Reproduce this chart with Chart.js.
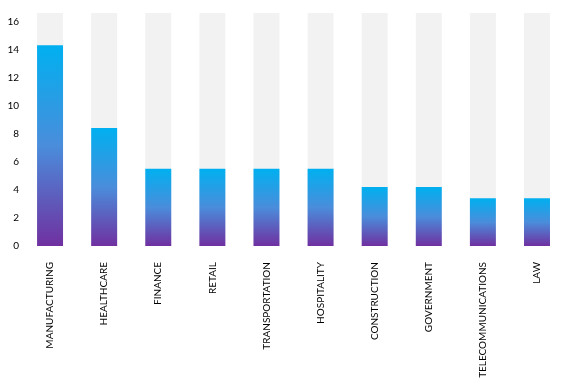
<!DOCTYPE html>
<html lang="en">
<head>
    <meta charset="UTF-8">
    <title>Industries</title>
    <style>
        html, body { margin: 0; padding: 0; background: #ffffff; }
        .chart-container { position: relative; width: 565px; height: 386px; }
    </style>
</head>
<body>
    <div class="chart-container">
        <canvas id="industryChart"></canvas>
    </div>
    <script src="https://cdn.jsdelivr.net/npm/chart.js"></script>
    <script>
        // 業種ごとの値
        const industries = ['MANUFACTURING', 'HEALTHCARE', 'FINANCE', 'RETAIL', 'TRANSPORTATION',
            'HOSPITALITY', 'CONSTRUCTION', 'GOVERNMENT', 'TELECOMMUNICATIONS', 'LAW'];
        const values = [14.3, 8.4, 5.5, 5.5, 5.5, 5.5, 4.2, 4.2, 3.4, 3.4];
        // 背景のグレーのバーの高さ
        const maxValue = 16.6;
        const backgroundValues = industries.map(() => maxValue);
        const yTicks = [0, 2, 4, 6, 8, 10, 12, 14, 16];

        // バーごとに上から水色→紫のグラデーション
        function barGradient(c) {
            const chart = c.chart;
            if (!chart.chartArea || c.raw === undefined) return '#00b0f0';
            const y = chart.scales.y;
            const top = y.getPixelForValue(c.raw);
            const bottom = y.getPixelForValue(0);
            const g = chart.ctx.createLinearGradient(0, top, 0, bottom);
            g.addColorStop(0, '#00b0f0');
            g.addColorStop(0.5, '#4a8ddb');
            g.addColorStop(1, '#7030a0');
            return g;
        }

        const config = {
            type: 'bar',
            data: {
                labels: industries,
                datasets: [{
                    label: 'value',
                    data: values,
                    backgroundColor: barGradient,
                    grouped: false,
                    order: 1,
                    barPercentage: 0.48,
                    categoryPercentage: 1
                }, {
                    label: 'background',
                    data: backgroundValues,
                    backgroundColor: '#f2f2f2',
                    grouped: false,
                    order: 2,
                    barPercentage: 0.48,
                    categoryPercentage: 1
                }]
            },
            options: {
                responsive: true,
                maintainAspectRatio: false,
                animation: false,
                layout: { padding: { top: 13, left: 0, right: -3, bottom: 0 } },
                plugins: {
                    legend: { display: false },
                    tooltip: { enabled: false }
                },
                scales: {
                    x: {
                        grid: { display: false, drawTicks: false },
                        border: { display: false },
                        ticks: {
                            color: '#000000',
                            font: { family: 'Lato', size: 10 },
                            minRotation: 90,
                            maxRotation: 90,
                            autoSkip: false,
                            padding: 16
                        },
                        afterFit: function (scale) { scale.height = 140; }
                    },
                    y: {
                        min: 0,
                        max: maxValue,
                        grid: { display: false, drawTicks: false },
                        border: { display: false },
                        ticks: {
                            color: '#000000',
                            font: { family: 'Lato', size: 10 },
                            padding: 4
                        },
                        afterBuildTicks: function (scale) {
                            scale.ticks = yTicks.map(v => ({ value: v }));
                        },
                        afterFit: function (scale) { scale.width = 23; }
                    }
                }
            }
        };
        const ctx = document.querySelector('#industryChart');
        const industryChart = new Chart(ctx, config);
    </script>
</body>
</html>
